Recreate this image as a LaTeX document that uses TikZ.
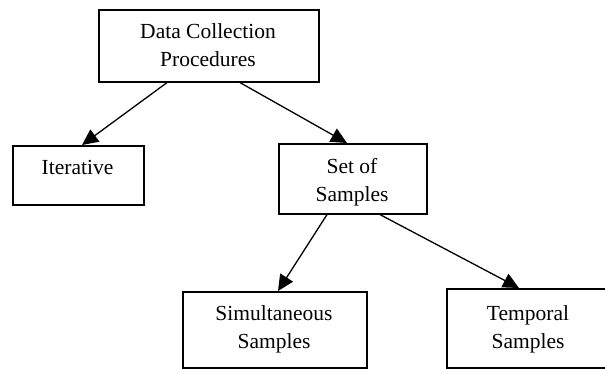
\documentclass[tikz,border=0pt]{standalone}
\usepackage{fontspec}
\setmainfont{Liberation Serif}
\usetikzlibrary{arrows.meta}

\begin{document}
\begin{tikzpicture}[x=1pt,y=-1pt,
  box/.style={draw=black, line width=1.6pt, rectangle, inner sep=0pt, anchor=north west},
  lbl/.style={align=center, inner sep=0pt, font=\fontsize{21.5}{28}\selectfont},
  arr/.style={draw=black, line width=1.3pt, -{Triangle[length=16pt,width=15pt]}}]
  \useasboundingbox (0,0) rectangle (605,369);
  \clip (0,0) rectangle (605,369);
  \fill[white] (0,0) rectangle (605,369);

  % boxes (the last one runs past the right margin)
  \node[box, minimum width=220pt, minimum height=72pt] (top) at (98,9) {};
  \node[box, minimum width=131pt, minimum height=59pt] (iter) at (12,145) {};
  \node[box, minimum width=148pt, minimum height=70pt] (set) at (278,143) {};
  \node[box, minimum width=184pt, minimum height=76pt] (simu) at (182,291) {};
  \node[box, minimum width=200pt, minimum height=79pt] (temp) at (446,288) {};

  % texts
  \node[lbl] (ttop)  at (208,44.7) {Data Collection\\Procedures};
  \node[lbl] (titer) at (77.5,167.7) {Iterative};
  \node[lbl] (tset)  at (352,182) {Set of\\Samples};
  \node[lbl] (tsimu) at (274,329) {Simultaneous\\Samples};
  \node[lbl] (ttemp) at (528,329) {Temporal\\Samples};

  % connectors
  \draw[arr] ([xshift=69pt]top.south west) -- ([xshift=70pt]iter.north west);
  \draw[arr] ([xshift=142pt]top.south west) -- ([xshift=69pt]set.north west);
  \draw[arr] ([xshift=49pt]set.south west) -- ([xshift=96pt]simu.north west);
  \draw[arr] ([xshift=102pt]set.south west) -- ([xshift=73pt]temp.north west);
\end{tikzpicture}
\end{document}
